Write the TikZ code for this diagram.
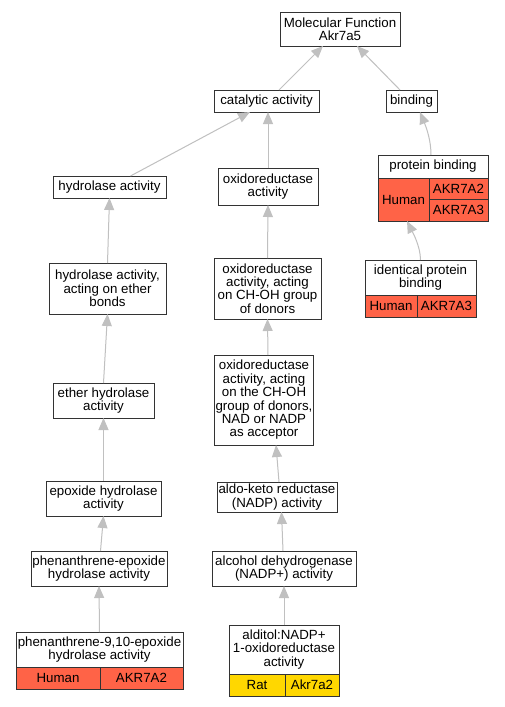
\documentclass[tikz,border=0pt]{standalone}
\usepackage{fontspec}
\setmainfont{Liberation Sans}
\usetikzlibrary{arrows.meta,positioning}
\definecolor{edgegray}{RGB}{192,192,192}
\definecolor{humanred}{RGB}{255,99,71}
\definecolor{ratgold}{RGB}{255,215,0}

\begin{document}
\begin{tikzpicture}[
		x=1pt, y=-1pt,
		term/.style={draw=black!80, line width=1pt, fill=white, align=center, inner sep=1pt, outer sep=0pt, font=\fontsize{13.3}{13.4}\selectfont},
		human/.style={term, fill=humanred, anchor=north west},
		rat/.style={term, fill=ratgold, anchor=north west},
		isa/.style={draw=edgegray, line width=1pt, -{Triangle[length=12pt,width=10pt,fill=edgegray]}}
		]
		\path[use as bounding box, fill=white] (0,0) rectangle (504,707);
		% terms
		\node[term, minimum width=120pt, minimum height=34pt] at (340,29) (mf) {Molecular Function\\Akr7a5};
		\node[term, minimum width=105pt, minimum height=22pt] at (266.5,101) (cat) {catalytic activity};
		\node[term, minimum width=51pt, minimum height=22pt] at (411.5,101) (bind) {binding};
		\node[term, minimum width=113pt, minimum height=22pt] at (109.5,187) (hyd) {hydrolase activity};
		\node[term, minimum width=100pt, minimum height=37pt] at (268,186.5) (oxr) {oxidoreductase\\activity};
		\node[term, minimum width=117pt, minimum height=51pt] at (107.5,288.5) (hydeth) {hydrolase activity,\\acting on ether\\bonds};
		\node[term, minimum width=107pt, minimum height=61pt] at (267.5,288.5) (oxch) {oxidoreductase\\activity, acting\\on CH-OH group\\of donors};
		\node[term, minimum width=101pt, minimum height=35pt] at (103.5,400.5) (eth) {ether hydrolase\\activity};
		\node[term, minimum width=94pt, minimum height=90pt] at (264,400) (oxnad) {oxidoreductase\\activity, acting\\on the CH-OH\\group of donors,\\NAD or NADP\\as acceptor};
		\node[term, minimum width=120pt, minimum height=30pt] at (277,497) (aldo) {aldo-keto reductase\\(NADP) activity};
		\node[term, minimum width=115pt, minimum height=35pt] at (103.5,498.5) (epo) {epoxide hydrolase\\activity};
		\node[term, minimum width=136pt, minimum height=35pt] at (99,568.5) (phepo) {phenanthrene-epoxide\\hydrolase activity};
		\node[term, minimum width=144pt, minimum height=35pt] at (284,568.5) (alc) {alcohol dehydrogenase\\(NADP+) activity};
		
		% annotated terms
		\node[term, minimum width=110pt, minimum height=23pt] at (433,166.5) (pb) {protein binding};
		\node[human, minimum width=51pt, minimum height=43pt] at (pb.south west) (pbhum) {Human};
		\node[human, minimum width=59pt, minimum height=21.5pt] at (pbhum.north east) (pba2) {AKR7A2};
		\node[human, minimum width=59pt, minimum height=21.5pt] at (pba2.south west) (pba3) {AKR7A3};
		
		\node[term, minimum width=111pt, minimum height=35pt] at (420.5,277.5) (ipb) {identical protein\\binding};
		\node[human, minimum width=52pt, minimum height=22pt] at (ipb.south west) (ipbhum) {Human};
		\node[human, minimum width=59pt, minimum height=22pt] at (ipbhum.north east) (ipba3) {AKR7A3};
		
		\node[term, minimum width=167pt, minimum height=35pt] at (99.5,649.5) (phen) {phenanthrene-9,10-epoxide\\hydrolase activity};
		\node[human, minimum width=84pt, minimum height=22pt] at (phen.south west) (phenhum) {Human};
		\node[human, minimum width=83pt, minimum height=22pt] at (phenhum.north east) (phena2) {AKR7A2};
		
		\node[term, minimum width=110pt, minimum height=49pt] at (284,649.5) (ald) {alditol:NADP+\\1-oxidoreductase\\activity};
		\node[rat, minimum width=56pt, minimum height=22pt] at (ald.south west) (aldrat) {Rat};
		\node[rat, minimum width=54pt, minimum height=22pt] at (aldrat.north east) (alda2) {Akr7a2};
		
		% is-a arrows, child to parent
		\draw[isa] ([xshift=12.5pt]cat.north) -- ([xshift=-17pt]mf.south);
		\draw[isa] ([xshift=-11.5pt]bind.north) -- ([xshift=17pt]mf.south);
		\draw[isa] ([xshift=21pt]hyd.north) -- ([xshift=-16.5pt]cat.south);
		\draw[isa] (oxr.north) -- ([xshift=1.5pt]cat.south);
		\draw[isa] (hydeth.north) -- (hyd.south);
		\draw[isa] (oxch.north) -- (oxr.south);
		\draw[isa] ([xshift=-2pt]pb.north) .. controls +(0,-18) and +(4,10) .. ([xshift=8.5pt]bind.south);
		\draw[isa] (ipb.north) .. controls +(0,-14) and +(5,10) .. ([xshift=3.5pt]pbhum.south);
		\draw[isa] (eth.north) -- (hydeth.south);
		\draw[isa] (epo.north) -- (eth.south);
		\draw[isa] ([xshift=1.5pt]phepo.north) -- (epo.south);
		\draw[isa] ([xshift=4pt]oxnad.north) -- (oxch.south);
		\draw[isa] ([xshift=2pt]aldo.north) -- ([xshift=12pt]oxnad.south);
		\draw[isa] ([xshift=-1pt]alc.north) -- ([xshift=4.5pt]aldo.south);
		\draw[isa] (ald.north) -- (alc.south);
		\draw[isa] (phen.north) -- (phepo.south);
	\end{tikzpicture}
\end{document}
